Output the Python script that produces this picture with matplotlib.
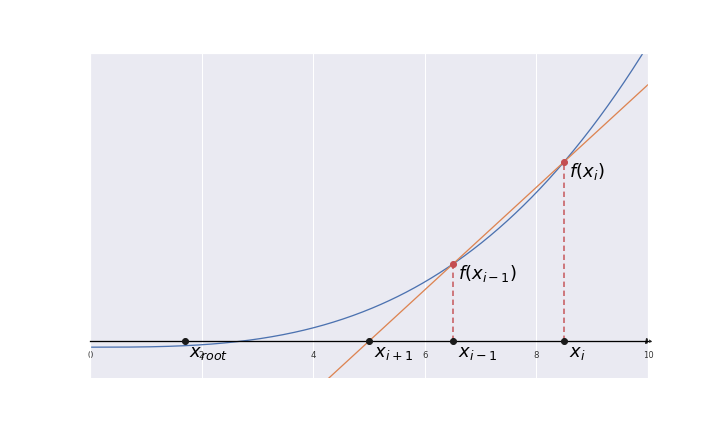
import numpy as np
import matplotlib
matplotlib.use("Agg")
import matplotlib.pyplot as plt
import seaborn as sns

sns.set_theme(style="darkgrid")

x_prev = 6.5
x_cur = 8.5
x_next = 5.0
x_root = 1.7
xlim = (0, 10)
ylim = (-122, 953)
xticks = [0, 2, 4, 6, 8, 10]


def f(x):
    return x ** 3 - 20


fig, ax = plt.subplots(figsize=(10, 6), dpi=72)
fig.subplots_adjust(left=0.125, right=0.9, bottom=0.125, top=0.877)
xs = np.linspace(0, 10, 400)
ax.plot(xs, f(xs), color="C0", lw=1.3)
slope = (f(x_cur) - f(x_prev)) / (x_cur - x_prev)
ax.plot(xs, f(x_prev) + slope * (xs - x_prev), color="C1", lw=1.3)

ax.set_xlim(*xlim)
ax.set_ylim(*ylim)
ax.set_yticks([])
ax.set_xticks(xticks)
ax.tick_params(axis="x", labelsize=8.5, pad=4, labelcolor="#333333")
ax.spines["bottom"].set_position(("data", 0))
ax.spines["bottom"].set_visible(True)
ax.spines["bottom"].set_color("black")
ax.spines["bottom"].set_linewidth(1.3)
ax.plot(1, 0, ">k", transform=ax.get_yaxis_transform(), clip_on=False, ms=5)

for xv in [x_prev, x_cur]:
    ax.plot([xv, xv], [0, f(xv)], color="C3", lw=1.8, alpha=0.8, dashes=(3, 2))
    ax.plot(xv, f(xv), "o", color="C3", ms=6, zorder=5)
for xv in [x_prev, x_cur, x_next, x_root]:
    ax.plot(xv, 0, "o", color="k", ms=6, zorder=5)

fs = 18
kw = dict(textcoords="offset points", va="top", fontsize=fs, color="black")
ax.annotate(r"$x_{root}$", (x_root, 0), xytext=(4, -3), **kw)
ax.annotate(r"$x_{i+1}$", (x_next, 0), xytext=(5, -3), **kw)
ax.annotate(r"$x_{i-1}$", (x_prev, 0), xytext=(5, -3), **kw)
ax.annotate(r"$x_i$", (x_cur, 0), xytext=(5, -3), **kw)
ax.annotate(r"$f(x_{i-1})$", (x_prev, f(x_prev)), xytext=(5, 1), **kw)
ax.annotate(r"$f(x_i)$", (x_cur, f(x_cur)), xytext=(5, 1), **kw)

fig.savefig("out.png", dpi=72)
